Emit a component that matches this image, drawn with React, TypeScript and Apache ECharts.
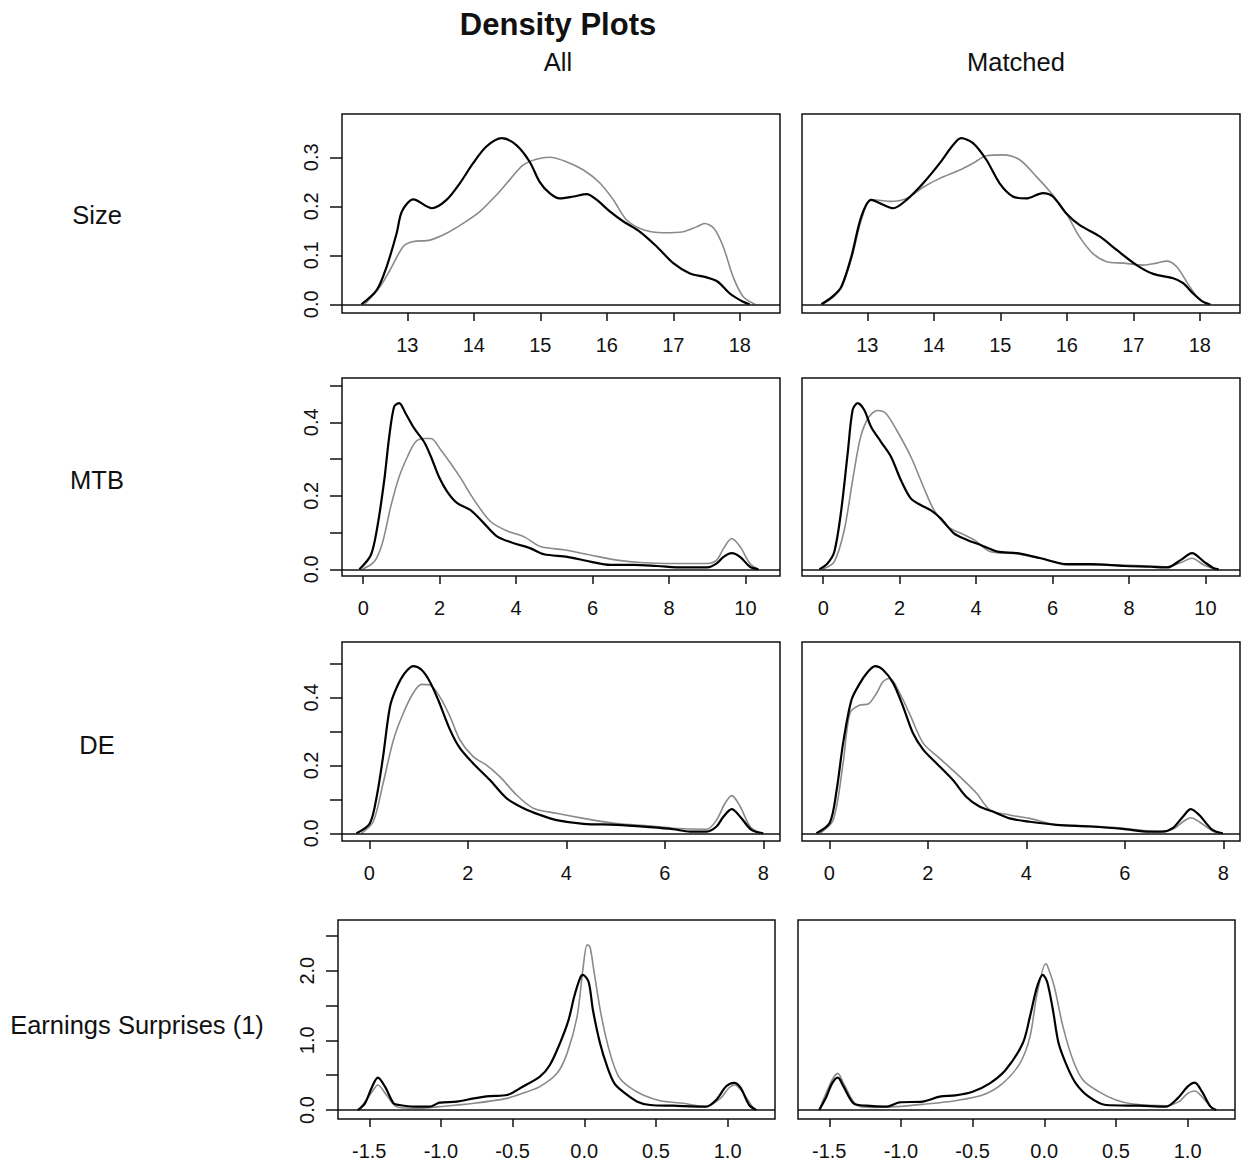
import React, { useEffect, useRef } from "react";
import * as echarts from "echarts";

// ---------- tick values ----------
const sizeXTicks = [13, 14, 15, 16, 17, 18];
const sizeYTicks = [0, 0.1, 0.2, 0.3];
const sizeYLabels = [0, 0.1, 0.2, 0.3];
const mtbXTicks = [0, 2, 4, 6, 8, 10];
const mtbYTicks = [0, 0.1, 0.2, 0.3, 0.4, 0.5];
const mtbYLabels = [0, 0.2, 0.4];
const deXTicks = [0, 2, 4, 6, 8];
const deYTicks = [0, 0.1, 0.2, 0.3, 0.4, 0.5];
const deYLabels = [0, 0.2, 0.4];
const esXTicks = [-1.5, -1.0, -0.5, 0.0, 0.5, 1.0];
const esYTicks = [0, 0.5, 1.0, 1.5, 2.0, 2.5];
const esYLabels = [0, 1.0, 2.0];

const rowLabels = ["Size", "MTB", "DE", "Earnings Surprises (1)"];
const columnLabels = ["All", "Matched"];

// ---------- density curves [x, density] ----------
const sizeAllBlack = [
  [12.31, 0], [12.54, 0.029], [12.69, 0.077], [12.84, 0.145], [12.92, 0.19], [13.09, 0.214],
  [13.37, 0.196], [13.59, 0.213], [13.79, 0.247], [13.99, 0.288], [14.19, 0.322], [14.42, 0.339],
  [14.64, 0.325], [14.84, 0.291], [14.99, 0.25], [15.14, 0.227], [15.29, 0.216], [15.5, 0.22],
  [15.7, 0.225], [15.85, 0.213], [16.05, 0.189], [16.25, 0.169], [16.5, 0.148], [16.75, 0.118],
  [17.0, 0.084], [17.25, 0.063], [17.5, 0.055], [17.67, 0.046], [17.85, 0.022], [18.05, 0.005], [18.15, 0],
];
const sizeAllGray = [
  [12.36, 0], [12.59, 0.036], [12.74, 0.07], [12.94, 0.118], [13.09, 0.128], [13.34, 0.131],
  [13.59, 0.145], [13.84, 0.165], [14.09, 0.189], [14.34, 0.223], [14.54, 0.254], [14.74, 0.284],
  [14.94, 0.296], [15.14, 0.3], [15.39, 0.291], [15.65, 0.274], [15.9, 0.247], [16.1, 0.213],
  [16.3, 0.172], [16.55, 0.152], [16.85, 0.146], [17.15, 0.148], [17.35, 0.158], [17.47, 0.165],
  [17.61, 0.155], [17.75, 0.118], [17.9, 0.056], [18.05, 0.016], [18.23, 0],
];
const sizeMatchedBlack = [
  [12.31, 0], [12.48, 0.016], [12.61, 0.036], [12.76, 0.097], [12.91, 0.179], [13.06, 0.213],
  [13.24, 0.203], [13.39, 0.196], [13.59, 0.213], [13.84, 0.247], [14.09, 0.288], [14.29, 0.325],
  [14.41, 0.339], [14.59, 0.329], [14.79, 0.295], [14.99, 0.247], [15.19, 0.22], [15.39, 0.216],
  [15.64, 0.227], [15.79, 0.22], [15.99, 0.186], [16.19, 0.162], [16.5, 0.138], [16.75, 0.111],
  [17.05, 0.08], [17.3, 0.062], [17.6, 0.053], [17.75, 0.043], [17.9, 0.022], [18.05, 0.005], [18.15, 0],
];
const sizeMatchedGray = [
  [12.33, 0], [12.5, 0.016], [12.62, 0.036], [12.77, 0.097], [12.91, 0.172], [13.06, 0.214],
  [13.34, 0.21], [13.59, 0.216], [13.84, 0.239], [14.09, 0.257], [14.39, 0.274], [14.59, 0.288],
  [14.79, 0.303], [15.04, 0.305], [15.29, 0.295], [15.54, 0.261], [15.79, 0.223], [15.99, 0.186],
  [16.19, 0.138], [16.39, 0.104], [16.6, 0.087], [16.85, 0.084], [17.15, 0.08], [17.35, 0.084],
  [17.5, 0.088], [17.65, 0.077], [17.85, 0.036], [18.0, 0.009], [18.17, 0],
];
const mtbAllBlack = [
  [-0.1, 0], [0.2, 0.039], [0.37, 0.116], [0.55, 0.243], [0.68, 0.361], [0.81, 0.443], [0.94, 0.452],
  [1.11, 0.424], [1.33, 0.384], [1.59, 0.347], [1.77, 0.307], [1.98, 0.252], [2.2, 0.211], [2.46, 0.18],
  [2.81, 0.161], [3.16, 0.125], [3.51, 0.089], [3.94, 0.071], [4.38, 0.057], [4.73, 0.041], [5.34, 0.034],
  [5.94, 0.021], [6.47, 0.012], [7.08, 0.012], [7.69, 0.009], [8.38, 0.005], [9.0, 0.005], [9.25, 0.016],
  [9.43, 0.034], [9.64, 0.044], [9.86, 0.034], [10.12, 0.007], [10.34, 0],
];
const mtbAllGray = [
  [-0.02, 0], [0.29, 0.021], [0.5, 0.071], [0.72, 0.171], [0.94, 0.252], [1.16, 0.307], [1.37, 0.347],
  [1.59, 0.356], [1.77, 0.356], [2.03, 0.325], [2.29, 0.288], [2.55, 0.248], [2.9, 0.189], [3.33, 0.13],
  [3.77, 0.104], [4.2, 0.089], [4.64, 0.062], [5.25, 0.053], [5.94, 0.039], [6.64, 0.025], [7.34, 0.018],
  [8.12, 0.016], [9.0, 0.016], [9.25, 0.025], [9.43, 0.057], [9.64, 0.084], [9.86, 0.062], [10.12, 0.016],
  [10.34, 0],
];
const mtbMatchedBlack = [
  [-0.1, 0], [0.11, 0.016], [0.29, 0.048], [0.46, 0.152], [0.64, 0.316], [0.77, 0.434], [0.9, 0.452],
  [1.07, 0.434], [1.25, 0.388], [1.51, 0.347], [1.77, 0.307], [2.03, 0.243], [2.29, 0.193], [2.55, 0.175],
  [2.81, 0.161], [3.07, 0.139], [3.42, 0.098], [3.77, 0.08], [4.12, 0.066], [4.56, 0.048], [5.08, 0.044],
  [5.69, 0.03], [6.38, 0.014], [6.99, 0.014], [7.87, 0.009], [8.56, 0.007], [9.0, 0.005], [9.35, 0.025],
  [9.65, 0.044], [9.96, 0.021], [10.22, 0.003], [10.35, 0],
];
const mtbMatchedGray = [
  [-0.02, 0], [0.29, 0.021], [0.55, 0.107], [0.77, 0.243], [0.98, 0.361], [1.2, 0.415], [1.42, 0.432],
  [1.64, 0.424], [1.94, 0.375], [2.29, 0.307], [2.64, 0.22], [2.9, 0.161], [3.25, 0.116], [3.6, 0.098],
  [3.95, 0.08], [4.38, 0.048], [5.08, 0.042], [5.69, 0.03], [6.38, 0.012], [7.43, 0.012], [8.56, 0.009],
  [9.0, 0.007], [9.35, 0.018], [9.65, 0.03], [9.96, 0.012], [10.3, 0],
];
const deAllBlack = [
  [-0.26, 0], [0.01, 0.029], [0.15, 0.108], [0.28, 0.226], [0.42, 0.373], [0.55, 0.428], [0.72, 0.472],
  [0.89, 0.493], [1.06, 0.482], [1.23, 0.447], [1.4, 0.393], [1.64, 0.305], [1.84, 0.251], [2.11, 0.206],
  [2.45, 0.157], [2.79, 0.103], [3.13, 0.074], [3.47, 0.054], [3.8, 0.039], [4.35, 0.028], [5.02, 0.025],
  [5.7, 0.018], [6.17, 0.012], [6.51, 0.005], [6.85, 0.005], [7.05, 0.02], [7.19, 0.049], [7.36, 0.071],
  [7.53, 0.049], [7.76, 0.01], [8.0, 0],
];
const deAllGray = [
  [-0.16, 0], [0.08, 0.034], [0.28, 0.147], [0.49, 0.275], [0.69, 0.354], [0.89, 0.413], [1.06, 0.439],
  [1.23, 0.437], [1.43, 0.403], [1.64, 0.344], [1.84, 0.275], [2.11, 0.226], [2.38, 0.201], [2.65, 0.167],
  [2.99, 0.113], [3.33, 0.074], [3.8, 0.059], [4.35, 0.044], [5.02, 0.029], [5.7, 0.022], [6.17, 0.015],
  [6.85, 0.012], [7.05, 0.039], [7.22, 0.088], [7.36, 0.111], [7.53, 0.079], [7.73, 0.02], [7.94, 0],
];
const deMatchedBlack = [
  [-0.26, 0], [0.01, 0.031], [0.15, 0.128], [0.28, 0.265], [0.45, 0.393], [0.62, 0.442], [0.76, 0.472],
  [0.93, 0.493], [1.09, 0.482], [1.3, 0.442], [1.5, 0.373], [1.7, 0.295], [1.91, 0.246], [2.18, 0.206],
  [2.51, 0.157], [2.78, 0.108], [3.05, 0.079], [3.32, 0.064], [3.66, 0.044], [4.07, 0.034], [4.61, 0.025],
  [5.28, 0.02], [5.96, 0.013], [6.5, 0.005], [6.77, 0.005], [6.97, 0.015], [7.18, 0.049], [7.34, 0.071],
  [7.51, 0.054], [7.78, 0.01], [7.99, 0],
];
const deMatchedGray = [
  [-0.19, 0], [0.08, 0.039], [0.28, 0.206], [0.42, 0.354], [0.62, 0.378], [0.79, 0.381], [0.96, 0.413],
  [1.09, 0.447], [1.23, 0.457], [1.43, 0.413], [1.64, 0.349], [1.91, 0.265], [2.24, 0.221], [2.65, 0.167],
  [2.99, 0.118], [3.26, 0.069], [3.66, 0.054], [4.07, 0.044], [4.61, 0.025], [5.28, 0.022], [5.96, 0.015],
  [6.64, 0.005], [6.97, 0.012], [7.18, 0.034], [7.34, 0.046], [7.51, 0.034], [7.78, 0.007], [7.99, 0],
];
const esAllBlack = [
  [-1.58, 0], [-1.53, 0.096], [-1.48, 0.335], [-1.44, 0.464], [-1.39, 0.335], [-1.33, 0.096], [-1.29, 0.072],
  [-1.19, 0.048], [-1.08, 0.048], [-1.01, 0.105], [-0.89, 0.12], [-0.77, 0.167], [-0.66, 0.2], [-0.54, 0.215],
  [-0.43, 0.335], [-0.31, 0.478], [-0.24, 0.646], [-0.17, 0.957], [-0.11, 1.29], [-0.07, 1.63], [-0.03, 1.89],
  [-0.01, 1.94], [0.03, 1.84], [0.06, 1.44], [0.11, 0.957], [0.16, 0.622], [0.21, 0.383], [0.27, 0.263],
  [0.37, 0.12], [0.46, 0.072], [0.62, 0.062], [0.85, 0.048], [0.92, 0.144], [0.99, 0.34], [1.045, 0.39],
  [1.09, 0.32], [1.15, 0.072], [1.2, 0],
];
const esAllGray = [
  [-1.57, 0], [-1.48, 0.263], [-1.44, 0.359], [-1.38, 0.215], [-1.31, 0.048], [-1.17, 0.024], [-1.01, 0.048],
  [-0.77, 0.096], [-0.54, 0.167], [-0.43, 0.239], [-0.31, 0.335], [-0.19, 0.526], [-0.12, 0.813], [-0.05, 1.34],
  [-0.01, 2.01], [0.02, 2.37], [0.04, 2.34], [0.07, 1.96], [0.12, 1.34], [0.18, 0.813], [0.24, 0.478],
  [0.31, 0.335], [0.41, 0.215], [0.53, 0.134], [0.69, 0.096], [0.85, 0.048], [0.95, 0.167], [1.01, 0.32],
  [1.05, 0.36], [1.1, 0.27], [1.18, 0.024], [1.2, 0],
];
const esMatchedBlack = [
  [-1.57, 0], [-1.52, 0.191], [-1.48, 0.383], [-1.44, 0.464], [-1.4, 0.335], [-1.33, 0.096], [-1.24, 0.062],
  [-1.1, 0.048], [-1.01, 0.11], [-0.85, 0.12], [-0.73, 0.191], [-0.62, 0.21], [-0.5, 0.263], [-0.38, 0.383],
  [-0.27, 0.574], [-0.15, 0.957], [-0.1, 1.34], [-0.05, 1.77], [-0.01, 1.94], [0.02, 1.84], [0.06, 1.44],
  [0.1, 0.957], [0.16, 0.622], [0.22, 0.383], [0.31, 0.191], [0.43, 0.072], [0.66, 0.062], [0.85, 0.048],
  [0.93, 0.167], [1.0, 0.335], [1.05, 0.392], [1.1, 0.263], [1.16, 0.048], [1.2, 0],
];
const esMatchedGray = [
  [-1.57, 0], [-1.48, 0.431], [-1.44, 0.526], [-1.4, 0.383], [-1.31, 0.072], [-1.2, 0.038], [-1.03, 0.048],
  [-0.85, 0.081], [-0.62, 0.134], [-0.43, 0.215], [-0.29, 0.383], [-0.17, 0.67], [-0.1, 1.05], [-0.05, 1.67],
  [0.01, 2.1], [0.02, 2.08], [0.07, 1.77], [0.13, 1.2], [0.2, 0.718], [0.27, 0.431], [0.38, 0.263],
  [0.5, 0.144], [0.62, 0.086], [0.85, 0.062], [0.94, 0.12], [1.0, 0.239], [1.05, 0.273], [1.1, 0.191],
  [1.17, 0.024], [1.2, 0],
];

const FONT = '"Liberation Sans", Arial, Helvetica, sans-serif';

type Row = {
  xMin: number; xMax: number; yMin: number; yMax: number;
  xTicks: number[]; yTicks: number[]; yLabels: number[]; xDec: number;
  top: number; height: number; lefts: number[]; width: number;
  curves: number[][][][];
};

const rows: Row[] = [
  { xMin: 12.018, xMax: 18.605, yMin: -0.0178, yMax: 0.3884, xTicks: sizeXTicks, yTicks: sizeYTicks, yLabels: sizeYLabels, xDec: 0,
    top: 114, height: 199, lefts: [342, 802], width: 438,
    curves: [[sizeAllBlack, sizeAllGray], [sizeMatchedBlack, sizeMatchedGray]] },
  { xMin: -0.556, xMax: 10.906, yMin: -0.0182, yMax: 0.5206, xTicks: mtbXTicks, yTicks: mtbYTicks, yLabels: mtbYLabels, xDec: 0,
    top: 378, height: 198, lefts: [342, 802], width: 438,
    curves: [[mtbAllBlack, mtbAllGray], [mtbMatchedBlack, mtbMatchedGray]] },
  { xMin: -0.554, xMax: 8.339, yMin: -0.0227, yMax: 0.564, xTicks: deXTicks, yTicks: deYTicks, yLabels: deYLabels, xDec: 0,
    top: 642, height: 199, lefts: [342, 802], width: 438,
    curves: [[deAllBlack, deAllGray], [deMatchedBlack, deMatchedGray]] },
  { xMin: -1.718, xMax: 1.3305, yMin: -0.129, yMax: 2.727, xTicks: esXTicks, yTicks: esYTicks, yLabels: esYLabels, xDec: 1,
    top: 920, height: 199, lefts: [338, 798], width: 437,
    curves: [[esAllBlack, esAllGray], [esMatchedBlack, esMatchedGray]] },
];

const rowLabelPos = [[97, 215], [97, 480], [97, 745], [137, 1025]];
const colLabelPos = [[558, 62], [1016, 62]];

function buildOption() {
  const grid: any[] = [];
  const xAxis: any[] = [];
  const yAxis: any[] = [];
  const series: any[] = [];
  let i = 0;
  rows.forEach((r) => {
    [0, 1].forEach((c) => {
      grid.push({
        left: r.lefts[c], top: r.top, width: r.width, height: r.height,
        show: true, borderColor: "#111", borderWidth: 1.5, backgroundColor: "transparent",
        containLabel: false,
      });
      xAxis.push({
        gridIndex: i, type: "value", min: r.xMin, max: r.xMax,
        axisLine: { show: false, onZero: false },
        axisTick: { show: true, length: 8, lineStyle: { color: "#111", width: 1.5 }, customValues: r.xTicks },
        axisLabel: {
          show: true, customValues: r.xTicks, margin: 22, color: "#111", fontSize: 20, fontFamily: FONT,
          formatter: (v: number) => v.toFixed(r.xDec),
        },
        splitLine: { show: false },
      });
      if (c === 0) {
        yAxis.push({
          gridIndex: i, type: "value", min: r.yMin, max: r.yMax,
          axisLine: { show: false, onZero: false },
          axisTick: { show: true, length: 12, lineStyle: { color: "#111", width: 1.5 }, customValues: r.yTicks },
          axisLabel: {
            show: true, customValues: r.yLabels, rotate: 90, margin: 21, color: "#111", fontSize: 20, fontFamily: FONT,
            formatter: (v: number) => v.toFixed(1),
          },
          splitLine: { show: false },
        });
      } else {
        yAxis.push({ gridIndex: i, type: "value", min: r.yMin, max: r.yMax, show: false, splitLine: { show: false } });
      }
      const [black, gray] = r.curves[c];
      series.push({
        type: "line", xAxisIndex: i, yAxisIndex: i, data: gray, showSymbol: false, symbol: "none",
        smooth: 0.3, lineStyle: { color: "#8a8a8a", width: 1.6 }, z: 2, silent: true,
        emphasis: { disabled: true },
      });
      series.push({
        type: "line", xAxisIndex: i, yAxisIndex: i, data: black, showSymbol: false, symbol: "none",
        smooth: 0.3, lineStyle: { color: "#000", width: 2.2 }, z: 3, silent: true,
        emphasis: { disabled: true },
        markLine: {
          silent: true, symbol: ["none", "none"], label: { show: false },
          lineStyle: { color: "#111", width: 1.5, type: "solid" },
          emphasis: { disabled: true },
          data: [{ yAxis: 0 }],
        },
      });
      i++;
    });
  });

  const graphic: any[] = [
    {
      type: "text", x: 558, y: 24,
      style: { text: "Density Plots", font: `bold 31px ${FONT}`, fill: "#111", textAlign: "center", textVerticalAlign: "middle" },
    },
  ];
  columnLabels.forEach((t, k) => {
    graphic.push({
      type: "text", x: colLabelPos[k][0], y: colLabelPos[k][1],
      style: { text: t, font: `25.5px ${FONT}`, fill: "#111", textAlign: "center", textVerticalAlign: "middle" },
    });
  });
  rowLabels.forEach((t, k) => {
    graphic.push({
      type: "text", x: rowLabelPos[k][0], y: rowLabelPos[k][1],
      style: { text: t, font: `25.5px ${FONT}`, fill: "#111", textAlign: "center", textVerticalAlign: "middle" },
    });
  });

  return { animation: false, backgroundColor: "#fff", grid, xAxis, yAxis, series, graphic };
}

export default function App() {
  const ref = useRef<HTMLDivElement>(null);
  useEffect(() => {
    document.body.style.margin = "0";
    const chart = echarts.init(ref.current!, null, { renderer: "svg" });
    chart.setOption(buildOption() as any);
    return () => chart.dispose();
  }, []);
  return <div ref={ref} style={{ width: 1241, height: 1163, background: "#fff" }} />;
}
